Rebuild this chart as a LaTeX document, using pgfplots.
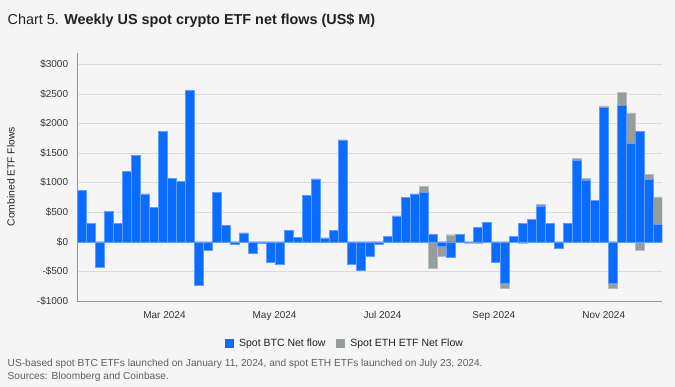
\documentclass[border=0pt]{standalone}
\usepackage{fontspec}
\setmainfont{Liberation Sans}
\usepackage{pgfplots}
\usepackage{pgfplotstable}
\pgfplotsset{compat=1.18}
\definecolor{bg}{HTML}{F5F5F5}
\definecolor{btc}{HTML}{0A6CFF}
\definecolor{btcedge}{HTML}{5C9DFF}
\definecolor{eth}{HTML}{959D9D}
\definecolor{ethedge}{HTML}{B8BEBE}
\definecolor{txt}{HTML}{222222}
\definecolor{tick}{HTML}{333333}
\definecolor{note}{HTML}{5F5F5F}

\pgfplotstableread{
k btc eth
0 870 0
1 315 0
2 -428 0
3 512 0
4 310 0
5 1194 0
6 1458 0
7 811 0
8 585 0
9 1864 0
10 1070 0
11 1025 0
12 2562 0
13 -737 0
14 -135 0
15 833 0
16 276 0
17 -34 0
18 152 0
19 -197 0
20 -15 0
21 -343 0
22 -372 0
23 197 0
24 73 0
25 783 0
26 1064 0
27 68 0
28 197 0
29 1723 0
30 -372 0
31 -479 0
32 -242 0
33 -34 0
34 90 0
35 439 0
36 749 0
37 811 0
38 839 101
39 124 -439
40 -73 -169
41 -265 120
42 126 0
43 0 -15
44 250 -30
45 324 0
46 -343 0
47 -700 -90
48 96 0
49 310 -20
50 377 0
51 608 25
52 310 0
53 -113 0
54 310 0
55 1382 30
56 1048 25
57 700 0
58 2275 20
59 -706 -75
60 2305 215
61 1665 515
62 1872 -146
63 1058 80
64 298 462
}\flows

\pgfplotsset{
  barbase/.style={ybar, bar width=1, bar shift=0pt, line width=0.35pt, forget plot},
  btcbar/.style={barbase, fill=btc, draw=btcedge},
  ethbar/.style={barbase, fill=eth, draw=ethedge},
}

\begin{document}
\begin{tikzpicture}
\useasboundingbox (0pt,0pt) rectangle (675pt,387pt);
\fill[bg] (0pt,0pt) rectangle (675pt,387pt);
\node[anchor=base west, inner sep=0pt, text=txt, font=\fontsize{14.4}{16}\selectfont] at (7.5pt,362.5pt) {Chart 5. \textbf{Weekly US spot crypto ETF net flows (US\$ M)}};
\node[rotate=90, inner sep=0pt, text=txt, font=\fontsize{10.3}{12}\selectfont] at (11pt,210.3pt) {Combined ETF Flows};
\node[anchor=base west, inner sep=0pt, text=note, font=\fontsize{10.15}{12}\selectfont] at (7.5pt,20.5pt) {US-based spot BTC ETFs launched on January 11, 2024, and spot ETH ETFs launched on July 23, 2024.};
\node[anchor=base west, inner sep=0pt, text=note, font=\fontsize{10.15}{12}\selectfont] at (7.5pt,7.5pt) {Sources: Bloomberg and Coinbase.};
\begin{axis}[
  at={(77.3pt,86pt)}, anchor=south west,
  scale only axis, width=584.7pt, height=247.7pt,
  xmin=-0.5, xmax=64.5, ymin=-1000, ymax=3185,
  axis x line=bottom, axis y line=left,
  axis line style={draw=black!42, line width=0.9pt, -},
  ytick={-1000,-500,0,500,1000,1500,2000,2500,3000},
  yticklabels={-\$1000,-\$500,\$0,\$500,\$1000,\$1500,\$2000,\$2500,\$3000},
  xtick={9.19,21.43,33.43,45.8,58.02},
  xticklabels={Mar 2024,May 2024,Jul 2024,Sep 2024,Nov 2024},
  major tick length=0pt,
  ymajorgrids,
  grid style={draw=black!14, line width=0.6pt},
  ticklabel style={font=\fontsize{10}{12}\selectfont, text=tick},
  yticklabel style={anchor=east, inner sep=0pt, xshift=-9pt},
  xticklabel style={anchor=base, inner sep=0pt, yshift=-18pt},
  legend style={at={(0.458,-0.1696)}, anchor=center, draw=none, fill=none,
    font=\fontsize{10.5}{12}\selectfont, text=txt,
    /tikz/every odd column/.append style={column sep=3.5pt},
    /tikz/every even column/.append style={column sep=9pt},
    nodes={inner sep=2pt}},
  legend columns=2,
]
\addplot[ethbar] table[x=k, y expr={max(\thisrow{btc},0)+max(\thisrow{eth},0)}] {\flows};
\addplot[btcbar] table[x=k, y expr={max(\thisrow{btc},0)}] {\flows};
\addplot[ethbar] table[x=k, y expr={min(\thisrow{btc},0)+min(\thisrow{eth},0)}] {\flows};
\addplot[btcbar] table[x=k, y expr={min(\thisrow{btc},0)}] {\flows};
\addlegendimage{legend image code/.code={\fill[btc] (0pt,-4pt) rectangle (8pt,4pt);}}
\addlegendentry{Spot BTC Net flow}
\addlegendimage{legend image code/.code={\fill[eth] (0pt,-4pt) rectangle (8pt,4pt);}}
\addlegendentry{Spot ETH ETF Net Flow}
\end{axis}
\end{tikzpicture}
\end{document}
